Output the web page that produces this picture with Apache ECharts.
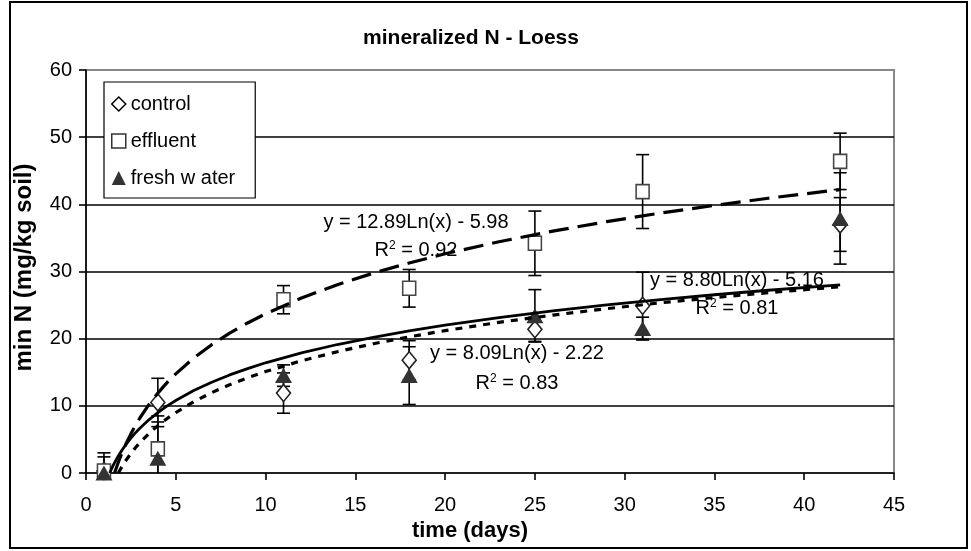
<!DOCTYPE html>
<html>
<head>
<meta charset="utf-8">
<script src="https://cdn.jsdelivr.net/npm/echarts@6/dist/echarts.min.js"></script>
<style>
html,body{margin:0;padding:0;background:#fff;}
#chart{width:971px;height:551px;}
</style>
</head>
<body>
<div id="chart"></div>
<script>
// ---- data ----
const days = [1, 4, 11, 18, 25, 31, 42];
const control = [0.3, 10.5, 11.9, 16.8, 21.4, 24.9, 37.0];
const controlErr = [2.1, 3.6, 3.0, 2.9, 1.8, 5.0, 4.0];
const effluent = [0.3, 3.6, 25.8, 27.5, 34.2, 41.9, 46.4];
const effluentErr = [2.7, 4.9, 2.1, 2.8, 4.8, 5.5, 4.2];
const fresh = [0.0, 2.2, 14.5, 14.5, 23.4, 21.5, 37.9];
const freshErr = [1.0, 5.4, 1.6, 4.3, 3.9, 1.7, 6.8];

// trendline curves
const trendControlX = [1.32, 1.5, 1.6, 1.8, 2, 2.25, 2.5, 2.75, 3, 3.5, 4, 4.5, 5, 6, 7, 8, 9, 10, 12, 14, 16, 18, 20, 23, 26, 29, 32, 35, 38, 42];
const trendControlY = [0, 1.06, 1.58, 2.54, 3.39, 4.34, 5.19, 5.97, 6.67, 7.92, 8.99, 9.95, 10.80, 12.28, 13.52, 14.60, 15.55, 16.41, 17.88, 19.13, 20.21, 21.16, 22.02, 23.14, 24.14, 25.02, 25.82, 26.54, 27.21, 28.02];
const trendFreshX = [1.8, 2, 2.25, 2.5, 2.75, 3, 3.5, 4, 4.5, 5, 6, 7, 8, 9, 10, 12, 14, 16, 18, 20, 23, 26, 29, 32, 35, 38, 42];
const trendFreshY = [0, 0.94, 1.98, 2.90, 3.75, 4.51, 5.87, 7.04, 8.08, 9.00, 10.61, 11.96, 13.14, 14.17, 15.10, 16.71, 18.06, 19.24, 20.27, 21.20, 22.43, 23.51, 24.47, 25.34, 26.12, 26.85, 27.73];
const trendEffluentX = [1.59, 1.8, 2, 2.25, 2.5, 2.75, 3, 3.5, 4, 4.5, 5, 6, 7, 8, 9, 10, 12, 14, 16, 18, 20, 23, 26, 29, 32, 35, 38, 42];
const trendEffluentY = [0, 1.60, 2.95, 4.47, 5.83, 7.06, 8.19, 10.17, 11.89, 13.41, 14.76, 17.12, 19.10, 20.82, 22.34, 23.70, 26.05, 28.04, 29.76, 31.27, 32.64, 34.43, 36.02, 37.42, 38.70, 39.84, 40.91, 42.20];

const seriesNames = ['control', 'effluent', 'fresh w ater'];
const eqEffluent = 'y = 12.89Ln(x) - 5.98';
const r2Effluent = '0.92';
const eqControl = 'y = 8.09Ln(x) - 2.22';
const r2Control = '0.83';
const eqFresh = 'y = 8.80Ln(x) - 5.16';
const r2Fresh = '0.81';

const titleText = 'mineralized N - Loess';
const xName = 'time (days)';
const yName = 'min N (mg/kg soil)';

// ---- build ----
const FONT = 'Liberation Sans, Arial, sans-serif';
const pts = (xs, ys) => xs.map((x, i) => [x, ys[i]]);
const errData = (xs, ys, es) => xs.map((x, i) => [x, ys[i] - es[i], ys[i] + es[i]]);

function errRender(params, api) {
  const x = api.value(0);
  const lo = api.coord([x, api.value(1)]);
  const hi = api.coord([x, api.value(2)]);
  const w = 6.5;
  const st = { stroke: '#000', lineWidth: 1.6 };
  return {
    type: 'group',
    children: [
      { type: 'line', shape: { x1: lo[0], y1: lo[1], x2: hi[0], y2: hi[1] }, style: st },
      { type: 'line', shape: { x1: lo[0] - w, y1: lo[1], x2: lo[0] + w, y2: lo[1] }, style: st },
      { type: 'line', shape: { x1: hi[0] - w, y1: hi[1], x2: hi[0] + w, y2: hi[1] }, style: st }
    ]
  };
}

const chart = echarts.init(document.getElementById('chart'), null, { renderer: 'canvas' });

function label(x, y, txt) {
  return { type: 'text', x: x, y: y, z: 100,
    style: { text: txt, fill: '#000', font: '20px ' + FONT, textAlign: 'center', textVerticalAlign: 'middle' } };
}
function r2label(x, y, val) {
  return { type: 'text', x: x, y: y, z: 100,
    style: { text: 'R{sup|2} = ' + val, fill: '#000', fontSize: 20, fontFamily: FONT, textAlign: 'center', textVerticalAlign: 'middle',
      rich: { sup: { fontSize: 12, fontFamily: FONT, fill: '#000', verticalAlign: 'top', lineHeight: 14 } } } };
}

const option = {
  backgroundColor: '#fff',
  animation: false,
  title: {
    text: titleText, left: 466, top: 23, textAlign: 'center',
    textStyle: { fontFamily: FONT, fontSize: 21, fontWeight: 'bold', color: '#000' }
  },
  grid: { left: 86, top: 70, right: 77, bottom: 78, show: true, borderColor: '#888', borderWidth: 2, backgroundColor: 'transparent' },
  legend: {
    orient: 'vertical', left: 104, top: 82,
    backgroundColor: '#fff', borderColor: '#000', borderWidth: 1.2, borderRadius: 0,
    padding: [12, 20, 10, 7], itemGap: 17, itemWidth: 14, itemHeight: 14,
    textStyle: { fontFamily: FONT, fontSize: 20, color: '#000' },
    data: [
      { name: seriesNames[0], icon: 'diamond', itemStyle: { color: '#fff', borderColor: '#000', borderWidth: 1.5 } },
      { name: seriesNames[1], icon: 'rect', itemStyle: { color: '#fff', borderColor: '#333', borderWidth: 1.5 } },
      { name: seriesNames[2], icon: 'triangle', itemStyle: { color: '#333', borderWidth: 0 } }
    ]
  },
  xAxis: {
    type: 'value', min: 0, max: 45, interval: 5,
    name: xName, nameLocation: 'middle', nameGap: 35,
    nameTextStyle: { fontFamily: FONT, fontSize: 22, fontWeight: 'bold', color: '#000', padding: [0, 40, 0, 0] },
    axisLine: { show: true, onZero: false, lineStyle: { color: '#000', width: 1.6 } },
    axisTick: { show: true, inside: false, length: 7, lineStyle: { color: '#000', width: 1.6 } },
    axisLabel: { fontFamily: FONT, fontSize: 20, color: '#000', margin: 22 },
    splitLine: { show: false }
  },
  yAxis: {
    type: 'value', min: 0, max: 60, interval: 10,
    name: yName, nameLocation: 'middle', nameGap: 50, nameRotate: 90,
    nameTextStyle: { fontFamily: FONT, fontSize: 24, fontWeight: 'bold', color: '#000', padding: [0, 0, 0, 8] },
    axisLine: { show: true, onZero: false, lineStyle: { color: '#000', width: 1.6 } },
    axisTick: { show: true, inside: false, length: 7, lineStyle: { color: '#000', width: 1.6 } },
    axisLabel: { fontFamily: FONT, fontSize: 20, color: '#000', margin: 14 },
    splitLine: { show: true, showMinLine: false, showMaxLine: false, lineStyle: { color: '#000', width: 1.6 } }
  },
  series: [
    { name: 'err-control', type: 'custom', renderItem: errRender, data: errData(days, control, controlErr), z: 2, clip: true, silent: true },
    { name: 'err-effluent', type: 'custom', renderItem: errRender, data: errData(days, effluent, effluentErr), z: 2, clip: true, silent: true },
    { name: 'err-fresh', type: 'custom', renderItem: errRender, data: errData(days, fresh, freshErr), z: 2, clip: true, silent: true },
    { name: seriesNames[0], type: 'scatter', data: pts(days, control), symbol: 'diamond', symbolSize: [14, 17], z: 3,
      itemStyle: { color: '#fff', borderColor: '#222', borderWidth: 1.6, opacity: 1 } },
    { name: seriesNames[1], type: 'scatter', data: pts(days, effluent), symbol: 'rect', symbolSize: [13, 14], z: 3,
      itemStyle: { color: '#fff', borderColor: '#444', borderWidth: 1.6, opacity: 1 } },
    { name: seriesNames[2], type: 'scatter', data: pts(days, fresh), symbol: 'triangle', symbolSize: [17, 15], z: 3,
      itemStyle: { color: '#333', opacity: 1 } },
    { name: 'trend-effluent', type: 'line', data: pts(trendEffluentX, trendEffluentY), showSymbol: false, smooth: false, z: 4,
      lineStyle: { color: '#000', width: 3.2, type: [20, 9] }, silent: true },
    { name: 'trend-control', type: 'line', data: pts(trendControlX, trendControlY), showSymbol: false, smooth: false, z: 4,
      lineStyle: { color: '#000', width: 2.8, type: 'solid' }, silent: true },
    { name: 'trend-fresh', type: 'line', data: pts(trendFreshX, trendFreshY), showSymbol: false, smooth: false, z: 4,
      lineStyle: { color: '#000', width: 3.2, type: [7, 7] }, silent: true }
  ],
  graphic: [
    { type: 'rect', shape: { x: 10, y: 2, width: 957, height: 546 }, style: { fill: 'none', stroke: '#000', lineWidth: 2 }, z: 0, silent: true },
    label(416, 222, eqEffluent),
    r2label(416, 250, r2Effluent),
    label(517, 353, eqControl),
    r2label(517, 383, r2Control),
    label(737, 280, eqFresh),
    r2label(737, 308, r2Fresh)
  ]
};
chart.setOption(option);
</script>
</body>
</html>
